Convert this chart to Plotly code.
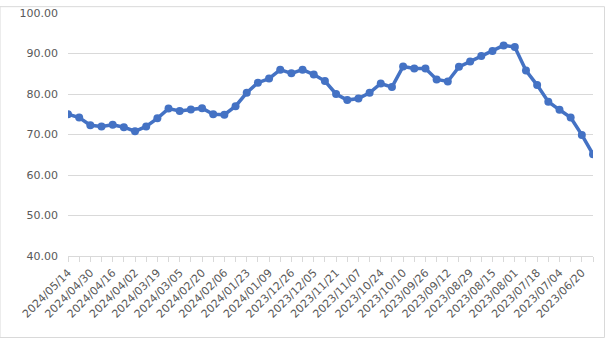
import plotly.graph_objects as go

dates = ["2024/05/14","2024/05/07","2024/04/30","2024/04/23","2024/04/16","2024/04/09","2024/04/02",
         "2024/03/26","2024/03/19","2024/03/12","2024/03/05","2024/02/27","2024/02/20","2024/02/13",
         "2024/02/06","2024/01/30","2024/01/23","2024/01/16","2024/01/09","2024/01/02","2023/12/26",
         "2023/12/12","2023/12/05","2023/11/28","2023/11/21","2023/11/14","2023/11/07","2023/10/31",
         "2023/10/24","2023/10/17","2023/10/10","2023/10/03","2023/09/26","2023/09/19","2023/09/12",
         "2023/09/05","2023/08/29","2023/08/22","2023/08/15","2023/08/08","2023/08/01","2023/07/25",
         "2023/07/18","2023/07/11","2023/07/04","2023/06/27","2023/06/20","2023/06/13"]
values = [75.0, 74.2, 72.3, 72.0, 72.4, 71.8, 70.8, 72.0, 74.0, 76.4, 75.8, 76.2, 76.5, 75.0,
          74.9, 77.0, 80.3, 82.8, 83.8, 86.0, 85.1, 86.0, 84.8, 83.2, 80.0, 78.5, 78.9, 80.3,
          82.6, 81.7, 86.8, 86.3, 86.3, 83.6, 83.1, 86.7, 88.0, 89.4, 90.6, 92.0, 91.6, 85.8,
          82.2, 78.1, 76.1, 74.2, 69.9, 65.1]
y_ticks = [40, 50, 60, 70, 80, 90, 100]

idx = list(range(len(dates)))
fig = go.Figure()
fig.add_trace(go.Scatter(
    x=idx, y=values, mode="lines+markers",
    line=dict(color="#4472C4", width=3.5),
    marker=dict(color="#4472C4", size=8, symbol="circle"),
    text=dates, hovertemplate="%{text}: %{y:.2f}<extra></extra>", showlegend=False,
))

fig.update_layout(
    width=605, height=340,
    margin=dict(l=68, r=12, t=7, b=84),
    paper_bgcolor="white", plot_bgcolor="white",
    font=dict(family="DejaVu Sans", color="#595959"),
    xaxis=dict(
        range=[0, len(dates) - 1],
        tickmode="array",
        tickvals=idx[::2],
        ticktext=dates[::2],
        tickangle=-45,
        tickfont=dict(size=11, color="#595959"),
        ticks="outside", ticklen=5, tickcolor="#d9d9d9",
        minor=dict(dtick=1, tick0=0, ticks="outside", ticklen=5, tickcolor="#d9d9d9", showgrid=False),
        showgrid=False, zeroline=False,
        showline=True, linecolor="#d9d9d9", linewidth=1,
    ),
    yaxis=dict(
        range=[40, 100],
        tickmode="array",
        tickvals=y_ticks,
        ticktext=[f"{v:.2f}" for v in y_ticks],
        tickfont=dict(size=11, color="#595959"),
        showgrid=True, gridcolor="#d9d9d9", gridwidth=1,
        zeroline=False, showline=False, ticks="", ticklabelstandoff=9,
    ),
    shapes=[dict(type="rect", xref="paper", yref="paper", x0=-68/525, x1=1+11.5/525,
                 y0=-83.5/249, y1=1+6.5/249, line=dict(color="#d9d9d9", width=1))],
)

fig.write_html("out.html")
